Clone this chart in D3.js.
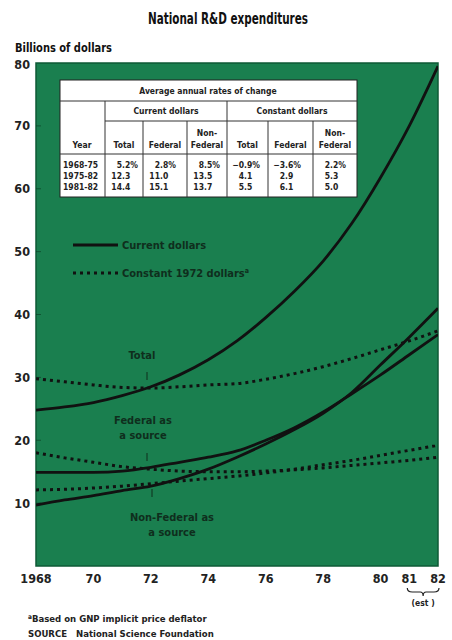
<!DOCTYPE html>
<html>
<head>
<meta charset="utf-8">
<script src="https://cdn.jsdelivr.net/npm/d3@7"></script>
<style>
  body { margin: 0; background: #fff; }
  svg { display: block; }
  text { font-family: "Liberation Sans Narrow", "DejaVu Sans Condensed", "Roboto", sans-serif; font-weight: bold; }
</style>
</head>
<body>
<svg id="chart" width="452" height="640"></svg>
<script>
// ---- data ----
const years = [1968, 1969, 1970, 1971, 1972, 1973, 1974, 1975, 1976, 1977, 1978, 1979, 1980, 1981, 1982];
const totalCurrent      = [24.8, 25.3, 26.0, 27.1, 28.5, 30.4, 32.8, 35.8, 39.5, 43.7, 48.5, 54.5, 61.8, 70.0, 79.5];
const federalCurrent    = [14.9, 14.9, 14.9, 15.1, 15.7, 16.5, 17.3, 18.3, 20.0, 22.0, 24.5, 27.4, 30.4, 33.6, 36.8];
const nonFedCurrent     = [9.7, 10.5, 11.2, 12.0, 12.7, 13.9, 15.4, 17.3, 19.4, 21.7, 24.3, 27.6, 32.0, 36.4, 41.0];
const totalConstant     = [29.8, 29.3, 28.8, 28.4, 28.3, 28.5, 28.8, 29.0, 29.7, 30.6, 31.7, 33.0, 34.4, 35.8, 37.4];
const federalConstant   = [18.0, 17.2, 16.5, 15.8, 15.4, 15.1, 15.0, 15.0, 15.1, 15.3, 15.6, 16.0, 16.4, 16.8, 17.3];
const nonFedConstant    = [12.1, 12.2, 12.4, 12.7, 13.1, 13.5, 13.9, 14.3, 14.8, 15.4, 16.1, 16.8, 17.6, 18.4, 19.2];

const yTicks = [10, 20, 30, 40, 50, 60, 70, 80];
const xTickYears = [1968, 1970, 1972, 1974, 1976, 1978, 1980, 1981, 1982];
const xTickLabels = ["1968", "70", "72", "74", "76", "78", "80", "81", "82"];

const tableRowLabels = ["1968-75", "1975-82", "1981-82"];
const tableColumns = ["Total", "Federal", "Non-Federal", "Total", "Federal", "Non-Federal"];
const tableValues = [
  ["5.2%", "2.8%", "8.5%", "\u22120.9%", "\u22123.6%", "2.2%"],
  ["12.3", "11.0", "13.5", "4.1", "2.9", "5.3"],
  ["14.4", "15.1", "13.7", "5.5", "6.1", "5.0"]
];

const green = "#1a7f4f";
const ink = "#111";
const darkText = "#0f2e1d";

const svg = d3.select("#chart");
const plotL = 36, plotR = 438, plotT = 63, plotB = 566;

const x = d3.scaleLinear().domain([1968, 1982]).range([plotL, plotR]);
const y = d3.scaleLinear().domain([0, 80]).range([plotB, plotT]);

// title (squeezed to the narrow face of the original)
svg.append("text")
  .attr("x", 148).attr("y", 24)
  .attr("font-size", 16)
  .attr("fill", "#111")
  .attr("textLength", 160).attr("lengthAdjust", "spacingAndGlyphs")
  .text("National R&D expenditures");

svg.append("text")
  .attr("x", 15).attr("y", 52)
  .attr("font-size", 13)
  .attr("fill", "#111")
  .attr("textLength", 97).attr("lengthAdjust", "spacingAndGlyphs")
  .text("Billions of dollars");

// plot background
svg.append("rect")
  .attr("x", plotL).attr("y", plotT)
  .attr("width", plotR - plotL).attr("height", plotB - plotT)
  .attr("fill", green)
  .attr("stroke", "#0e5a36")
  .attr("stroke-width", 1.5);

// y axis labels
const yAxis = d3.axisLeft(y).tickValues(yTicks).tickSize(0).tickPadding(6);
const yg = svg.append("g").attr("transform", `translate(${plotL},0)`).call(yAxis);
yg.select(".domain").remove();
yg.selectAll("text").attr("font-size", 12.5).attr("fill", "#222")
  .style("font-family", "'Liberation Sans Narrow', 'DejaVu Sans Condensed', sans-serif")
  .style("font-weight", "bold");
yg.selectAll(".tick").filter(d => d === 80).select("text").attr("dy", "0.45em");

// faint ticks inside the plot
svg.append("g").selectAll("line")
  .data(yTicks.filter(d => d < 80))
  .enter().append("line")
  .attr("x1", plotL).attr("x2", plotL + 5)
  .attr("y1", d => y(d)).attr("y2", d => y(d))
  .attr("stroke", "#0b3a22").attr("stroke-width", 1).attr("opacity", 0.6);

// x axis labels
svg.append("g").selectAll("text")
  .data(xTickYears)
  .enter().append("text")
  .attr("x", d => x(d))
  .attr("y", 583)
  .attr("text-anchor", "middle")
  .attr("font-size", 12.5)
  .attr("fill", "#222")
  .text((d, i) => xTickLabels[i]);

// brace for estimates
const bx1 = x(1981) - 2, bx2 = x(1982) + 1, bm = (bx1 + bx2) / 2;
svg.append("path")
  .attr("d", `M${bx1},588 Q${bx1},592 ${bx1 + 5},592 L${bm - 3},592 Q${bm},592 ${bm},596 Q${bm},592 ${bm + 3},592 L${bx2 - 5},592 Q${bx2},592 ${bx2},588`)
  .attr("fill", "none").attr("stroke", "#222").attr("stroke-width", 1.2);
svg.append("text")
  .attr("x", bm).attr("y", 606)
  .attr("text-anchor", "middle")
  .attr("font-size", 8.5).attr("fill", "#222")
  .text("(est )");

// lines
const line = d3.line()
  .x((d, i) => x(years[i]))
  .y(d => y(d))
  .curve(d3.curveMonotoneX);

svg.append("clipPath").attr("id", "plotclip")
  .append("rect").attr("x", plotL).attr("y", plotT - 2).attr("width", plotR - plotL).attr("height", plotB - plotT + 2);

const lines = svg.append("g").attr("clip-path", "url(#plotclip)");
[totalCurrent, federalCurrent, nonFedCurrent].forEach(s => {
  lines.append("path").attr("d", line(s))
    .attr("fill", "none").attr("stroke", ink).attr("stroke-width", 2.8);
});
[totalConstant, federalConstant, nonFedConstant].forEach(s => {
  lines.append("path").attr("d", line(s))
    .attr("fill", "none").attr("stroke", ink).attr("stroke-width", 3)
    .attr("stroke-dasharray", "3,4");
});

// legend
svg.append("line").attr("x1", 73).attr("x2", 118).attr("y1", 245).attr("y2", 245)
  .attr("stroke", ink).attr("stroke-width", 2.8);
svg.append("text").attr("x", 122).attr("y", 249).attr("font-size", 11).attr("fill", darkText)
  .text("Current dollars");
svg.append("line").attr("x1", 73).attr("x2", 118).attr("y1", 273).attr("y2", 273)
  .attr("stroke", ink).attr("stroke-width", 3).attr("stroke-dasharray", "3,4");
const leg2 = svg.append("text").attr("x", 122).attr("y", 277).attr("font-size", 11).attr("fill", darkText);
leg2.append("tspan").text("Constant 1972 dollars");
leg2.append("tspan").attr("font-size", 7).attr("dy", -4).text("a");

// series labels
const labels = [
  { lines: ["Total"], x: 142, y: 359, tick: [147, 372, 380] },
  { lines: ["Federal as", "a source"], x: 143, y: 424, tick: [147, 453, 461] },
  { lines: ["Non-Federal as", "a source"], x: 172, y: 521, tick: [152, 489, 497] }
];
labels.forEach(l => {
  l.lines.forEach((t, i) => {
    svg.append("text").attr("x", l.x).attr("y", l.y + i * 15)
      .attr("text-anchor", "middle").attr("font-size", 11).attr("fill", darkText).text(t);
  });
  svg.append("line").attr("x1", l.tick[0]).attr("x2", l.tick[0])
    .attr("y1", l.tick[1]).attr("y2", l.tick[2])
    .attr("stroke", darkText).attr("stroke-width", 1);
});

// table
const tLeft = 60, tRight = 357, tTop = 80, tBottom = 197;
const colEdges = [60, 105, 143, 187, 227, 268, 313, 357];
const tg = svg.append("g");
tg.append("rect").attr("x", tLeft).attr("y", tTop).attr("width", tRight - tLeft).attr("height", tBottom - tTop)
  .attr("fill", "#fff").attr("stroke", "#222").attr("stroke-width", 1);
const rule = (x1, y1, x2, y2) => tg.append("line").attr("x1", x1).attr("y1", y1).attr("x2", x2).attr("y2", y2)
  .attr("stroke", "#333").attr("stroke-width", 1);
rule(tLeft, 101, tRight, 101);
rule(105, 121, tRight, 121);
rule(tLeft, 154, tRight, 154);
rule(105, 101, 105, tBottom);
rule(227, 101, 227, tBottom);
[143, 187, 268, 313].forEach(cx => rule(cx, 121, cx, tBottom));

const tt = (xx, yy, s, anchor, size) => tg.append("text").attr("x", xx).attr("y", yy)
  .attr("text-anchor", anchor || "middle").attr("font-size", size || 8.5).attr("fill", "#222").text(s);

tt(208, 94, "Average annual rates of change");
tt(166, 114, "Current dollars");
tt(292, 114, "Constant dollars");
tt(82, 148, "Year");
tableColumns.forEach((c, i) => {
  const cx = (colEdges[i + 1] + colEdges[i + 2]) / 2;
  if (c === "Non-Federal") {
    tt(cx, 136, "Non-");
    tt(cx, 148, "Federal");
  } else {
    tt(cx, 148, c);
  }
});
tableRowLabels.forEach((r, ri) => {
  const ry = 168 + ri * 11;
  tt(63, ry, r, "start");
  tableValues[ri].forEach((v, ci) => {
    const dot = colEdges[ci + 1] + 17;
    const k = v.indexOf(".");
    tt(dot, ry, v.slice(0, k), "end");
    tt(dot, ry, v.slice(k), "start");
  });
});

// footnotes
const fn = svg.append("text").attr("x", 28).attr("y", 622).attr("font-size", 9.5).attr("fill", "#222");
fn.append("tspan").attr("font-size", 6.5).attr("dy", -3).text("a");
fn.append("tspan").attr("dy", 3).text("Based on GNP implicit price deflator");
svg.append("text").attr("x", 28).attr("y", 637).attr("font-size", 9.5).attr("fill", "#222")
  .attr("xml:space", "preserve")
  .text("SOURCE   National Science Foundation");
</script>
</body>
</html>
